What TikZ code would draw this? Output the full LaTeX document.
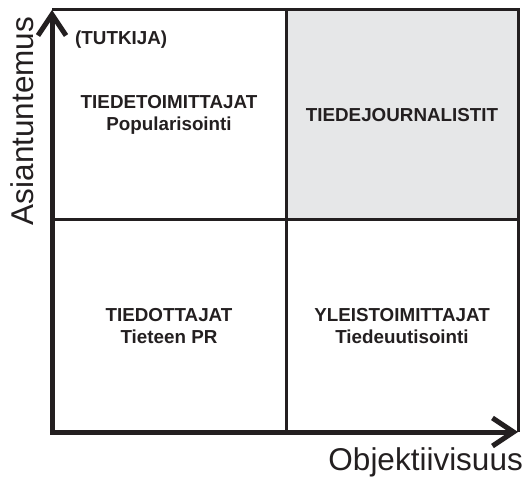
\documentclass[tikz,border=0pt]{standalone}
\usepackage{fontspec}
\setmainfont{Liberation Sans}
\usetikzlibrary{arrows.meta}
\definecolor{ink}{HTML}{231F20}
\definecolor{cellgray}{HTML}{E6E7E8}
\tikzset{
  cellline/.style={draw=ink, line width=3pt},
  axisline/.style={draw=ink, line width=5pt, line join=miter},
  barb/.tip={Straight Barb[length=21pt, width=28pt, line width=5pt]},
  celltext/.style={align=center, text=ink, font=\bfseries\fontsize{18.8}{21.5}\selectfont},
  axislabel/.style={text=ink, font=\fontsize{31.5}{36}\selectfont, inner sep=0pt}
}
\begin{document}
\begin{tikzpicture}[x=1pt, y=1pt]
\useasboundingbox (0,0) rectangle (525,477);
% grid
\coordinate (O) at (52,45);
\coordinate (ytip) at (52,467);
\coordinate (xtip) at (518,45);
\fill[cellgray] (286,257) rectangle (518,467);
\draw[cellline] (52,467) -- (518,467) -- (518,45);
\draw[cellline] (286,467) -- (286,45);
\draw[cellline] (52,257) -- (518,257);
% axes
\draw[axisline, {barb}-{barb}] (ytip) -- (O) -- (xtip);
% cell texts
\node[celltext] (c1) at (169,362) {TIEDETOIMITTAJAT\\Popularisointi};
\node[celltext] (c2) at (402,362) {TIEDEJOURNALISTIT};
\node[celltext] (c3) at (169,151) {TIEDOTTAJAT\\Tieteen PR};
\node[celltext] (c4) at (402,151) {YLEISTOIMITTAJAT\\Tiedeuutisointi};
\node[celltext, anchor=base west, inner sep=0pt] (tut) at (75,432) {(TUTKIJA)};
% axis labels
\node[axislabel, rotate=90, anchor=base] (ylab) at (33,356) {Asiantuntemus};
\node[axislabel, anchor=base east] (xlab) at (523,7) {Objektiivisuus};
\end{tikzpicture}
\end{document}
